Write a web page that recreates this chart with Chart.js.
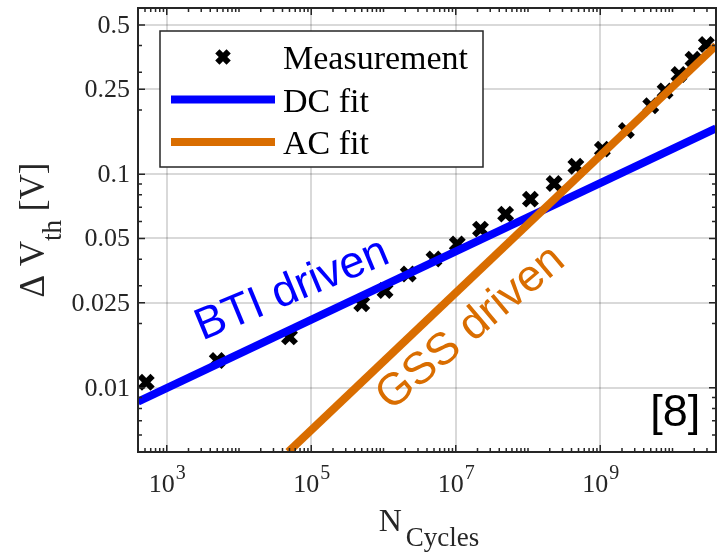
<!DOCTYPE html>
<html>
<head>
<meta charset="utf-8">
<script src="https://cdn.jsdelivr.net/npm/chart.js@4.4.1/dist/chart.umd.min.js"></script>
<style>
  html, body { margin: 0; padding: 0; background: #fff; }
</style>
</head>
<body>
<canvas id="chart" width="717" height="554"></canvas>
<script>
// measured points
const measCycles = [520, 5.0e3, 5.0e4, 5.0e5, 1.05e6, 2.2e6, 5.0e6, 1.05e7, 2.2e7, 4.9e7,
                    1.08e8, 2.3e8, 4.6e8, 1.07e9, 2.3e9, 5.0e9, 7.9e9, 1.23e10, 1.92e10, 2.94e10];
const measDvth = [0.0106, 0.0134, 0.0173, 0.0247, 0.0285, 0.0341, 0.0401, 0.0471, 0.0553, 0.065,
                  0.0764, 0.0905, 0.109, 0.131, 0.160, 0.209, 0.245, 0.293, 0.345, 0.405];

// fit lines (straight on log-log, so two ends are enough)
const dcFitCycles = [400, 4e10];
const dcFitDvth = [0.0086, 0.164];
const acFitCycles = [4.8e4, 4e10];
const acFitDvth = [0.005, 0.40];

const xTicks = [1e3, 1e5, 1e7, 1e9];
const yTicks = [0.01, 0.025, 0.05, 0.1, 0.25, 0.5];
const yTickLabels = ['0.01', '0.025', '0.05', '0.1', '0.25', '0.5'];

// text notes inside the plot
const noteTexts = ['BTI driven', 'GSS driven', '[8]'];
const noteCycles = [6.35e4, 2.09e7, 2.42e10];
const noteDvth = [0.02535, 0.01714, 0.0066];

const BLUE = '#0000ff';
const ORANGE = '#d96d00';
const INK = '#262626';
const GRID = 'rgba(0,0,0,0.15)';
const SERIF = '"Liberation Serif", "Times New Roman", serif';
const SANS = '"Liberation Sans", Arial, sans-serif';

const noteColors = [BLUE, ORANGE, '#000'];
const noteAngles = [-22.5, -40, 0];
const noteAlign = ['center', 'center', 'right'];

const pts = (xs, ys) => xs.map((v, i) => ({ x: v, y: ys[i] }));

function drawCross(ctx, cx, cy, r, lw) {
  const o = r * Math.SQRT1_2;
  ctx.save();
  ctx.strokeStyle = '#000';
  ctx.lineWidth = lw;
  ctx.beginPath();
  ctx.moveTo(cx - o, cy - o); ctx.lineTo(cx + o, cy + o);
  ctx.moveTo(cx - o, cy + o); ctx.lineTo(cx + o, cy - o);
  ctx.stroke();
  ctx.restore();
}

const overlay = {
  id: 'overlay',
  afterDraw(chart) {
    const { ctx, chartArea: a, scales: { x, y } } = chart;
    ctx.save();

    // axis box
    ctx.strokeStyle = INK;
    ctx.lineWidth = 2;
    ctx.strokeRect(a.left, a.top, a.right - a.left, a.bottom - a.top);

    // inward tick marks
    ctx.lineWidth = 1.5;
    ctx.beginPath();
    for (let k = 2; k <= 10; k++) {
      for (let n = 1; n <= 9; n++) {
        const v = n * Math.pow(10, k);
        if (v < x.min || v > x.max) continue;
        const px = x.getPixelForValue(v);
        const len = xTicks.some(t => Math.abs(t - v) / t < 1e-6) ? 7 : 4;
        ctx.moveTo(px, a.bottom); ctx.lineTo(px, a.bottom - len);
        ctx.moveTo(px, a.top); ctx.lineTo(px, a.top + len);
      }
    }
    for (let k = -3; k <= -1; k++) {
      for (let n = 1; n <= 9; n++) {
        const v = n * Math.pow(10, k);
        if (v < y.min || v > y.max) continue;
        if (yTicks.some(t => Math.abs(t - v) / t < 1e-6)) continue;
        const py = y.getPixelForValue(v);
        ctx.moveTo(a.left, py); ctx.lineTo(a.left + 4, py);
        ctx.moveTo(a.right, py); ctx.lineTo(a.right - 4, py);
      }
    }
    yTicks.forEach(v => {
      const py = y.getPixelForValue(v);
      ctx.moveTo(a.left, py); ctx.lineTo(a.left + 7, py);
      ctx.moveTo(a.right, py); ctx.lineTo(a.right - 7, py);
    });
    ctx.stroke();

    // tick labels
    ctx.fillStyle = INK;
    ctx.font = '26px ' + SERIF;
    ctx.textAlign = 'right';
    ctx.textBaseline = 'middle';
    yTicks.forEach((v, i) => {
      ctx.fillText(yTickLabels[i], a.left - 8, y.getPixelForValue(v) + 1);
    });
    ctx.textAlign = 'left';
    ctx.textBaseline = 'alphabetic';
    xTicks.forEach(v => {
      const px = x.getPixelForValue(v);
      const exp = String(Math.round(Math.log10(v)));
      ctx.font = '26px ' + SERIF;
      const w1 = ctx.measureText('10').width;
      ctx.font = '20px ' + SERIF;
      const w2 = ctx.measureText(exp).width;
      const x0 = px - (w1 + w2) / 2;
      ctx.font = '26px ' + SERIF;
      ctx.fillText('10', x0, 492);
      ctx.font = '20px ' + SERIF;
      ctx.fillText(exp, x0 + w1 + 1, 479);
    });

    // x title: N_Cycles
    ctx.font = '32px ' + SERIF;
    const wN = ctx.measureText('N').width;
    ctx.font = '27px ' + SERIF;
    const wC = ctx.measureText('Cycles').width;
    let tx = (a.left + a.right) / 2 - (wN + wC + 4) / 2 + 2;
    ctx.font = '32px ' + SERIF;
    ctx.fillText('N', tx, 531);
    ctx.font = '27px ' + SERIF;
    ctx.fillText('Cycles', tx + wN + 4, 546);

    // y title: Δ V_th [V]
    ctx.save();
    ctx.translate(44, (a.top + a.bottom) / 2);
    ctx.rotate(-Math.PI / 2);
    ctx.font = '35px ' + SERIF;
    const wA = ctx.measureText('\u0394 V').width;
    const wB = ctx.measureText(' [V]').width;
    ctx.font = '27px ' + SERIF;
    const wS = ctx.measureText('th').width;
    let u = -(wA + wS + wB) / 2;
    ctx.font = '35px ' + SERIF;
    ctx.fillText('\u0394 V', u, 0);
    ctx.font = '27px ' + SERIF;
    ctx.fillText('th', u + wA, 17);
    ctx.font = '35px ' + SERIF;
    ctx.fillText(' [V]', u + wA + wS, 0);
    ctx.restore();

    // notes
    noteTexts.forEach((t, i) => {
      ctx.save();
      ctx.translate(x.getPixelForValue(noteCycles[i]), y.getPixelForValue(noteDvth[i]));
      ctx.rotate(noteAngles[i] * Math.PI / 180);
      ctx.font = '45px ' + SANS;
      ctx.fillStyle = noteColors[i];
      ctx.textAlign = noteAlign[i];
      ctx.fillText(t, 0, 0);
      ctx.restore();
    });

    // legend box
    const lx = 160, ly = 31, lw = 323, lh = 136;
    ctx.fillStyle = '#fff';
    ctx.fillRect(lx, ly, lw, lh);
    ctx.strokeStyle = INK;
    ctx.lineWidth = 1.5;
    ctx.strokeRect(lx, ly, lw, lh);
    const ds = chart.data.datasets;
    ctx.font = '34px ' + SERIF;
    ctx.textAlign = 'left';
    ctx.fillStyle = '#000';
    ds.forEach((d, i) => {
      const cy = 57 + i * 42.5;
      if (d.showLine) {
        ctx.strokeStyle = d.borderColor;
        ctx.lineWidth = 8;
        ctx.beginPath();
        ctx.moveTo(171, cy); ctx.lineTo(275, cy);
        ctx.stroke();
      } else {
        drawCross(ctx, 223, cy, 8, 6);
      }
      ctx.fillText(d.label, 283, cy + 12);
    });

    ctx.restore();
  }
};

new Chart(document.getElementById('chart'), {
  type: 'scatter',
  data: {
    datasets: [
      {
        label: 'Measurement',
        data: pts(measCycles, measDvth),
        showLine: false,
        pointStyle: 'crossRot',
        pointRadius: 9,
        pointBorderWidth: 6,
        pointBorderColor: '#000',
        pointBackgroundColor: '#000',
        order: 2
      },
      {
        label: 'DC fit',
        data: pts(dcFitCycles, dcFitDvth),
        showLine: true,
        borderColor: BLUE,
        borderWidth: 8,
        pointRadius: 0,
        clip: 0,
        order: 1
      },
      {
        label: 'AC fit',
        data: pts(acFitCycles, acFitDvth),
        showLine: true,
        borderColor: ORANGE,
        borderWidth: 8,
        pointRadius: 0,
        clip: 0,
        order: 0
      }
    ]
  },
  options: {
    responsive: false,
    animation: false,
    events: [],
    layout: { autoPadding: false, padding: { top: 8, right: 1, left: 0, bottom: 0 } },
    plugins: { legend: { display: false }, tooltip: { enabled: false } },
    scales: {
      x: {
        type: 'logarithmic',
        min: 400,
        max: 4e10,
        afterBuildTicks: s => { s.ticks = xTicks.map(v => ({ value: v })); },
        afterFit: s => { s.height = 102; },
        ticks: { display: false },
        grid: { color: GRID, lineWidth: 2, drawTicks: false },
        border: { display: false }
      },
      y: {
        type: 'logarithmic',
        min: 0.005,
        max: 0.6,
        afterBuildTicks: s => { s.ticks = yTicks.map(v => ({ value: v })); },
        afterFit: s => { s.width = 138; },
        ticks: { display: false },
        grid: { color: GRID, lineWidth: 2, drawTicks: false },
        border: { display: false }
      }
    }
  },
  plugins: [overlay]
});
</script>
</body>
</html>
